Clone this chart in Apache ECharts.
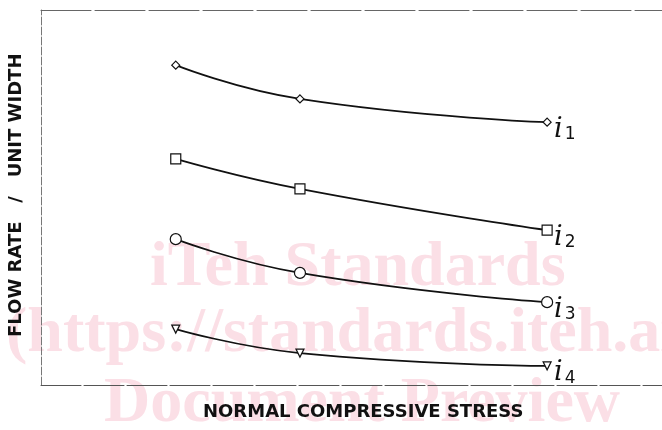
<!DOCTYPE html>
<html>
<head>
<meta charset="utf-8">
<script src="https://cdn.jsdelivr.net/npm/echarts@6/dist/echarts.min.js"></script>
<style>
  html, body { margin: 0; padding: 0; background: #fff; }
  #main { width: 662px; height: 430px; }
</style>
</head>
<body>
<div id="main"></div>
<script>
// stress positions (relative units, axis 0..100)
var stress = [21.7, 41.7, 81.5];

// flow rate per unit width for each gradient i1..i4 (relative units, axis 0..100)
var flowI1 = [85.3, 76.3, 70.1];
var flowI2 = [60.3, 52.3, 41.3];
var flowI3 = [38.9, 29.9, 22.1];
var flowI4 = [14.9, 8.5, 5.1];

var seriesNames = ['1', '2', '3', '4'];
var seriesSymbols = ['diamond', 'rect', 'circle', 'triangle'];
var seriesSizes = [8, 10, 11, 8];

function toPairs(values) {
    return values.map(function (v, i) { return [stress[i], v]; });
}

var chartDom = document.getElementById('main');
var myChart = echarts.init(chartDom);

var allData = [flowI1, flowI2, flowI3, flowI4];

var series = allData.map(function (values, k) {
    return {
        name: 'i' + seriesNames[k],
        type: 'line',
        smooth: 0.5,
        data: toPairs(values),
        symbol: seriesSymbols[k],
        symbolSize: seriesSizes[k],
        symbolRotate: k === 3 ? 180 : 0,
        showAllSymbol: true,
        z: 5,
        lineStyle: { color: '#111', width: 1.7 },
        itemStyle: { color: '#fff', borderColor: '#111', borderWidth: 1.2 },
        endLabel: {
            show: true,
            distance: 7,
            formatter: function () { return '{a|i}{b|' + seriesNames[k] + '}'; },
            rich: {
                a: { fontFamily: 'DejaVu Serif', fontStyle: 'italic', fontSize: 27, color: '#111', lineHeight: 26, verticalAlign: 'bottom' },
                b: { fontFamily: 'DejaVu Sans', fontSize: 17, color: '#111', padding: [25, 0, 0, 2], verticalAlign: 'bottom' }
            }
        }
    };
});

var option = {
    animation: false,
    backgroundColor: '#fff',
    grid: { left: 41, top: 10, right: 0, bottom: 45 },
    xAxis: [{
        type: 'value',
        min: 0,
        max: 100,
        axisLine: { show: true, lineStyle: { color: '#555', width: 1, type: [40, 3] } },
        axisTick: { show: false },
        axisLabel: { show: false },
        splitLine: { show: false }
    }, {
        type: 'value',
        position: 'top',
        min: 0,
        max: 100,
        axisLine: { show: true, lineStyle: { color: '#666', width: 1, type: [50, 4] } },
        axisTick: { show: false },
        axisLabel: { show: false },
        splitLine: { show: false }
    }],
    yAxis: {
        type: 'value',
        min: 0,
        max: 100,
        axisLine: { show: true, lineStyle: { color: '#777', width: 1, type: [8, 2] } },
        axisTick: { show: false },
        axisLabel: { show: false },
        splitLine: { show: false }
    },
    graphic: [
        // watermark behind the plot
        { type: 'text', z: -10, left: 150, top: 236, style: { text: 'iTeh Standards', fill: '#fbdfe6', font: 'bold 64px "Liberation Serif"' } },
        { type: 'text', z: -10, left: 6, top: 302, style: { text: '(https://standards.iteh.ai)', fill: '#fbdfe6', font: 'bold 64px "Liberation Serif"' } },
        { type: 'text', z: -10, left: 104, top: 372, style: { text: 'Document Preview', fill: '#fbdfe6', font: 'bold 64px "Liberation Serif"' } },
        // axis titles
        { type: 'text', z: 20, left: 203, top: 403, style: { text: 'NORMAL COMPRESSIVE STRESS', fill: '#111', font: 'bold 18px "DejaVu Sans"' } },
        { type: 'text', z: 20, x: 7, y: 337, rotation: Math.PI / 2, style: { text: 'FLOW RATE   /   UNIT WIDTH', fill: '#111', font: 'bold 18px "DejaVu Sans"' } }
    ],
    series: series
};

myChart.setOption(option);
</script>
</body>
</html>
